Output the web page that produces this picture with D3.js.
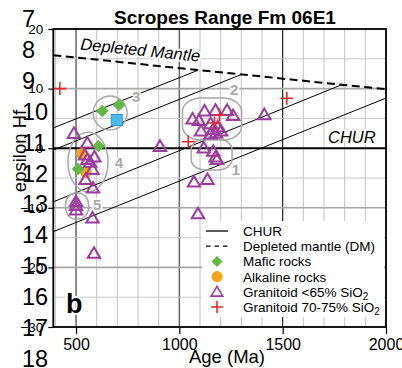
<!DOCTYPE html>
<html><head><meta charset="utf-8">
<script src="https://cdn.jsdelivr.net/npm/d3@7"></script>
<style>body{margin:0;background:#fff}svg{display:block;font-family:"Liberation Sans",Arial,sans-serif}</style>
</head><body><svg id="c" width="402" height="368"></svg>
<script>
// ---------- data ----------
const xTicks = [500, 1000, 1500, 2000];
const yTicks = [20, 10, 0, -10, -20, -30];
const lineNumbers = ["7","8","9","10","11","12","13","14","15","16","17","18"];
const dmAges = [390, 2000];
const dmEps = [15.6, 9.9];
const evoStartAge = [1092, 1302, 1786, 2000];
const evoStartEps = [13.1, 12.4, 10.65, 8.4];
const evoEndAge = [390, 390, 390, 390];
const evoEndEps = [3.4, -0.3, -9.0, -14.0];
const maficAge = [627, 708, 609, 510];
const maficEps = [6.24, 7.25, 0.37, -3.49];
const alkAge = [529, 548];
const alkEps = [-0.97, -3.99];
const gran65Age = [490, 555, 543, 555, 589, 568, 580, 546, 582, 500, 500, 500, 580, 587,
  1064, 1095, 1122, 1175, 1231, 1260, 1411, 1151, 1185, 1105, 1164, 1202, 1151, 1178,
  1118, 1164, 1175, 1182, 906, 1071, 1136, 1090];
const gran65Eps = [2.5, 0.87, -1.14, -1.9, -1.48, -2.32, -3.57, -5.25, -6.68, -8.94, -9.61, -10.37, -11.71, -17.63,
  4.9, 4.65, 6.24, 6.36, 6.36, 5.49, 5.65, 4.14, 3.56, 2.89, 3.14, 2.89, 2.38, 2.55,
  0.03, -0.5, -1.48, -1.9, 0.32, -5.67, -5.25, -10.99];
const gran70Age = [422, 1520, 1043, 1194, 1170];
const gran70Eps = [10.0, 8.37, 1.09, 5.57, 4.23];
const squareAge = [697];
const squareEps = [4.73];
const groupIds = ["1", "2", "3", "4", "5"];
const groupAge = [1156, 1158, 665, 558, 505];
const groupEps = [-1.06, 4.9, 5.9, -2.32, -9.7];
const groupW = [198, 286, 164, 194, 112];
const groupH = [5.2, 7.05, 5.7, 10.0, 4.4];
const groupRound = [0.35, 0.32, 0.5, 0.5, 0.45];
const groupLabelAge = [1274, 1265, 791, 708, 602];
const groupLabelEps = [-3.49, 9.93, 8.6, -2.32, -9.53];
const legendLabels = ["CHUR", "Depleted mantle (DM)", "Mafic rocks", "Alkaline rocks", "Granitoid <65% SiO", "Granitoid 70-75% SiO"];
const legendSub = ["", "", "", "", "2", "2"];
const legendKinds = ["line", "dash", "diamond", "circle", "triangle", "cross"];

// ---------- setup ----------
const svg = d3.select("#c");
const L = 53.3, R = 386, T = 29, B = 327;
const x = d3.scaleLinear().domain([390, 2000]).range([L, R]);
const y = d3.scaleLinear().domain([-30, 20]).range([B, T]);
const PURPLE = "#9b3c9e", GREEN = "#62b946", ORANGE = "#f7a21b", RED = "#e8262a";

svg.append("defs").append("clipPath").attr("id", "clip")
  .append("rect").attr("x", L).attr("y", T).attr("width", R - L).attr("height", B - T);
const plot = svg.append("g").attr("clip-path", "url(#clip)");

// grid
const vgrid = d3.range(400, 2000, 100);
plot.selectAll(".vg").data(vgrid).join("line")
  .attr("x1", d => x(d)).attr("x2", d => x(d)).attr("y1", T).attr("y2", B)
  .attr("stroke", d => d === 1500 ? "#111" : (d % 500 === 0 ? "#666" : "#c4c4c4"))
  .attr("stroke-width", d => d === 1500 ? 1.1 : (d % 500 === 0 ? 1.5 : 1));
const hgrid = d3.range(-25, 20, 5).filter(d => d !== 0);
plot.selectAll(".hg").data(hgrid).join("line")
  .attr("x1", L).attr("x2", R).attr("y1", d => y(d)).attr("y2", d => y(d))
  .attr("stroke", d => d % 10 === 0 ? "#a8a8a8" : "#c8c8c8")
  .attr("stroke-width", d => d % 10 === 0 ? 1.6 : 1);

// evolution lines
plot.selectAll(".evo").data(evoStartAge).join("line")
  .attr("x1", (d, i) => x(d)).attr("y1", (d, i) => y(evoStartEps[i]))
  .attr("x2", (d, i) => x(evoEndAge[i])).attr("y2", (d, i) => y(evoEndEps[i]))
  .attr("stroke", "#000").attr("stroke-width", 1);

// DM line
const lineGen = d3.line().x(d => x(d[0])).y(d => y(d[1]));
plot.append("path").datum(dmAges.map((a, i) => [a, dmEps[i]])).attr("d", lineGen)
  .attr("fill", "none").attr("stroke", "#000").attr("stroke-width", 2).attr("stroke-dasharray", "8,4.5");
// CHUR
plot.append("line").attr("x1", L).attr("x2", R).attr("y1", y(0)).attr("y2", y(0))
  .attr("stroke", "#000").attr("stroke-width", 2);

// group outlines
plot.selectAll(".grp").data(groupIds).join("rect")
  .each(function (d, i) {
    const w = x(groupAge[i] + groupW[i] / 2) - x(groupAge[i] - groupW[i] / 2);
    const h = y(groupEps[i] - groupH[i] / 2) - y(groupEps[i] + groupH[i] / 2);
    d3.select(this).attr("x", x(groupAge[i]) - w / 2).attr("y", y(groupEps[i]) - h / 2)
      .attr("width", w).attr("height", h)
      .attr("rx", w * groupRound[i]).attr("ry", h * groupRound[i]);
  })
  .attr("fill", "none").attr("stroke", "#a8a8a8").attr("stroke-width", 1.5);

// text annotations with white halos
function halo(sel, wdt) {
  return sel.attr("stroke", "#fff").attr("stroke-width", wdt).attr("paint-order", "stroke").attr("stroke-linejoin", "round");
}
const dmAngle = Math.atan2(y(dmEps[1]) - y(dmEps[0]), x(dmAges[1]) - x(dmAges[0])) * 180 / Math.PI;
halo(plot.append("text").attr("transform", `translate(80,49.5) rotate(${dmAngle})`)
  .attr("font-size", 16.5).attr("font-style", "italic").attr("fill", "#000").text("Depleted Mantle"), 4);
halo(plot.append("text").attr("x", 328).attr("y", 143)
  .attr("font-size", 16.5).attr("font-style", "italic").attr("fill", "#000").text("CHUR"), 4);
halo(plot.selectAll(".gl").data(groupIds).join("text")
  .attr("x", (d, i) => x(groupLabelAge[i])).attr("y", (d, i) => y(groupLabelEps[i]) + 5.5)
  .attr("text-anchor", "middle").attr("font-size", 15).attr("font-weight", "bold")
  .attr("fill", "#a8a8a8").text(d => d), 3);
halo(plot.append("text").attr("x", 66).attr("y", 313).attr("font-size", 27).attr("font-weight", "bold")
  .attr("fill", "#000").text("b"), 4);

// symbols
const triPath = "M0,-6L6.2,4.6L-6.2,4.6Z";
const diaPath = "M0,-6.3L6.3,0L0,6.3L-6.3,0Z";
const crossPath = "M-6.5,0H6.5M0,-6.5V6.5";
plot.selectAll(".alk").data(alkAge).join("circle")
  .attr("cx", d => x(d)).attr("cy", (d, i) => y(alkEps[i])).attr("r", 6).attr("fill", ORANGE);
plot.selectAll(".tri").data(gran65Age).join("path")
  .attr("transform", (d, i) => `translate(${x(d)},${y(gran65Eps[i])})`)
  .attr("d", triPath).attr("fill", "none").attr("stroke", PURPLE).attr("stroke-width", 2);
plot.selectAll(".maf").data(maficAge).join("path")
  .attr("transform", (d, i) => `translate(${x(d)},${y(maficEps[i])})`)
  .attr("d", diaPath).attr("fill", GREEN);
plot.selectAll(".sq").data(squareAge).join("rect")
  .attr("x", d => x(d) - 5.5).attr("y", (d, i) => y(squareEps[i]) - 5.5)
  .attr("width", 11).attr("height", 11).attr("fill", "#4dbcec").attr("stroke", "#2b93d6").attr("stroke-width", 1);
plot.selectAll(".crs").data(gran70Age).join("path")
  .attr("transform", (d, i) => `translate(${x(d)},${y(gran70Eps[i])})`)
  .attr("d", crossPath).attr("fill", "none").attr("stroke", RED).attr("stroke-width", 1.6);

// legend
const lg = svg.append("g");
lg.append("rect").attr("x", 202).attr("y", 221).attr("width", 182).attr("height", 96).attr("fill", "#fff");
const rowY = i => 231 + i * 15.2;
legendLabels.forEach((lab, i) => {
  const cy = rowY(i), cx = 217;
  const k = legendKinds[i];
  if (k === "line") lg.append("line").attr("x1", 206).attr("x2", 228).attr("y1", cy).attr("y2", cy).attr("stroke", "#000").attr("stroke-width", 1.3);
  if (k === "dash") lg.append("line").attr("x1", 206).attr("x2", 228).attr("y1", cy).attr("y2", cy).attr("stroke", "#000").attr("stroke-width", 1.3).attr("stroke-dasharray", "4.5,4");
  if (k === "diamond") lg.append("path").attr("transform", `translate(${cx},${cy})`).attr("d", "M0,-5.5L5.5,0L0,5.5L-5.5,0Z").attr("fill", GREEN);
  if (k === "circle") lg.append("circle").attr("cx", cx).attr("cy", cy).attr("r", 5.5).attr("fill", ORANGE);
  if (k === "triangle") lg.append("path").attr("transform", `translate(${cx},${cy})`).attr("d", "M0,-5.5L5.8,4.3L-5.8,4.3Z").attr("fill", "none").attr("stroke", PURPLE).attr("stroke-width", 1.6);
  if (k === "cross") lg.append("path").attr("transform", `translate(${cx},${cy})`).attr("d", "M-6,0H6M0,-6V6").attr("stroke", RED).attr("stroke-width", 1.6);
  const t = lg.append("text").attr("x", 243).attr("y", cy + 5).attr("font-size", 13.5).attr("fill", "#000").text(lab);
  if (legendSub[i]) t.append("tspan").attr("font-size", 10).attr("dy", 3).text(legendSub[i]);
});

// frame
svg.append("rect").attr("x", L).attr("y", T).attr("width", R - L).attr("height", B - T)
  .attr("fill", "none").attr("stroke", "#000").attr("stroke-width", 1.8);

// axes
const ax = svg.append("g").attr("transform", `translate(0,${B})`)
  .call(d3.axisBottom(x).tickValues(xTicks).tickFormat(d3.format("d")).tickSize(7).tickPadding(5));
ax.select(".domain").remove();
ax.selectAll("line").attr("stroke", "#000").attr("stroke-width", 1.2);
ax.selectAll("text").attr("font-size", 16).attr("font-family", "Liberation Sans, Arial, sans-serif").attr("fill", "#000");
const ay = svg.append("g").attr("transform", `translate(${L},0)`)
  .call(d3.axisLeft(y).tickValues(yTicks).tickFormat(d3.format("d")).tickSize(5).tickPadding(5));
ay.select(".domain").remove();
ay.selectAll("line").attr("stroke", "#000").attr("stroke-width", 1.2);
ay.selectAll("text").attr("font-size", 13.5).attr("font-family", "Liberation Sans, Arial, sans-serif").attr("fill", "#000");

// titles
svg.append("text").attr("x", 225).attr("y", 24).attr("text-anchor", "middle")
  .attr("font-size", 19).attr("font-weight", "bold").text("Scropes Range Fm 06E1");
svg.append("text").attr("x", 227).attr("y", 363).attr("text-anchor", "middle")
  .attr("font-size", 18.5).text("Age (Ma)");
svg.append("text").attr("transform", "translate(26,151) rotate(-90)").attr("text-anchor", "middle")
  .attr("font-size", 18.5).text("epsilon Hf");
svg.selectAll(".ln").data(lineNumbers).join("text")
  .attr("x", 22).attr("y", (d, i) => 27 + i * 30.9).attr("font-size", 23.5).attr("fill", "#000").text(d => d);
</script></body></html>
